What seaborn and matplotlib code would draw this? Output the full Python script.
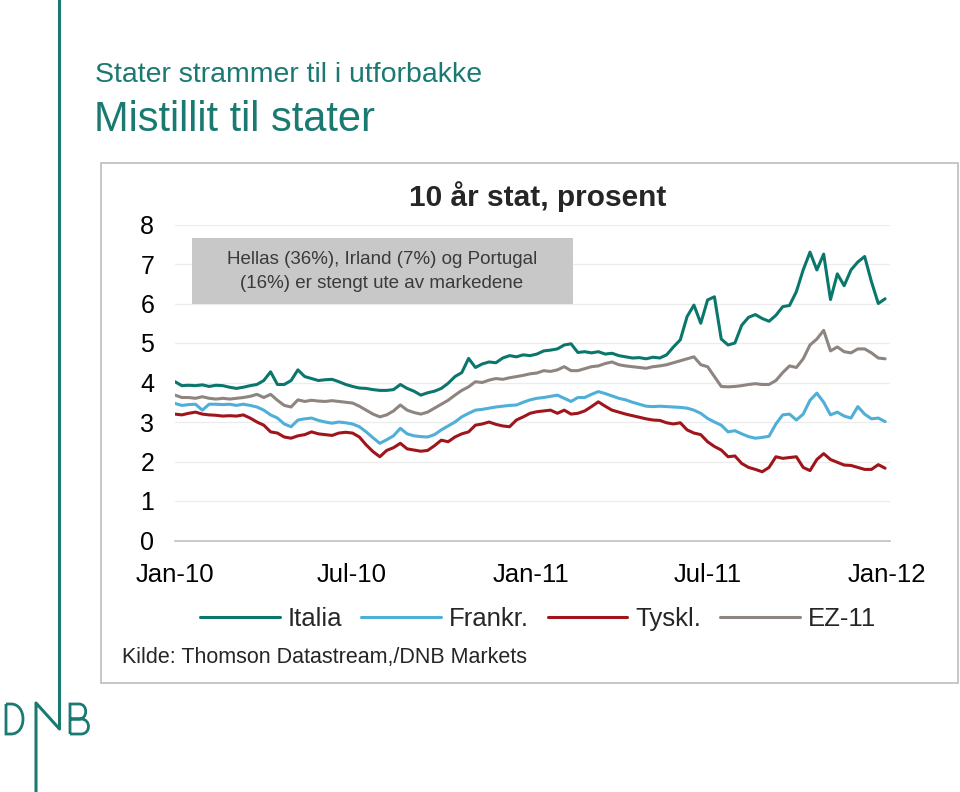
import pandas as pd
import matplotlib.pyplot as plt
import seaborn as sns
from matplotlib.lines import Line2D
from matplotlib.patches import Rectangle, PathPatch
from matplotlib.path import Path
from matplotlib.transforms import IdentityTransform

# ------------------------------------------------------------
# data: 10 year government yields, weekly readings (percent)
# ------------------------------------------------------------
dates = pd.date_range("2010-01-01", periods=105, freq="7D")

italia = [4.02, 3.92, 3.93, 3.92, 3.94, 3.90, 3.93, 3.92, 3.88, 3.85,
          3.88, 3.92, 3.95, 4.05, 4.27, 3.95, 3.95, 4.05, 4.32, 4.15,
          4.10, 4.05, 4.07, 4.08, 4.02, 3.95, 3.90, 3.86, 3.85, 3.82,
          3.80, 3.80, 3.82, 3.95, 3.85, 3.78, 3.68, 3.74, 3.78, 3.85,
          3.98, 4.15, 4.25, 4.61, 4.38, 4.47, 4.52, 4.50, 4.62, 4.68,
          4.65, 4.70, 4.68, 4.72, 4.80, 4.82, 4.85, 4.95, 4.98, 4.76,
          4.78, 4.75, 4.78, 4.72, 4.74, 4.68, 4.65, 4.62, 4.63, 4.60,
          4.64, 4.62, 4.70, 4.90, 5.08, 5.67, 5.96, 5.50, 6.09, 6.17,
          5.10, 4.95, 5.00, 5.45, 5.65, 5.72, 5.62, 5.55, 5.70, 5.92,
          5.95, 6.30, 6.85, 7.30, 6.85, 7.25, 6.10, 6.75, 6.45, 6.85,
          7.05, 7.19, 6.55, 6.00, 6.12]

frankr = [3.47, 3.42, 3.44, 3.45, 3.30, 3.45, 3.45, 3.44, 3.45, 3.42,
          3.45, 3.42, 3.38, 3.30, 3.18, 3.10, 2.95, 2.88, 3.05, 3.08,
          3.10, 3.04, 3.00, 2.97, 3.00, 2.98, 2.95, 2.88, 2.75, 2.60,
          2.46, 2.55, 2.65, 2.84, 2.70, 2.65, 2.63, 2.62, 2.68, 2.80,
          2.90, 3.00, 3.13, 3.22, 3.30, 3.32, 3.35, 3.38, 3.40, 3.42,
          3.43, 3.50, 3.56, 3.60, 3.62, 3.65, 3.68, 3.60, 3.52, 3.62,
          3.62, 3.70, 3.77, 3.72, 3.66, 3.60, 3.56, 3.50, 3.45, 3.40,
          3.39, 3.40, 3.39, 3.38, 3.37, 3.35, 3.30, 3.22, 3.09, 3.00,
          2.92, 2.75, 2.78, 2.70, 2.63, 2.59, 2.61, 2.64, 2.95, 3.18,
          3.20, 3.05, 3.20, 3.55, 3.73, 3.50, 3.18, 3.25, 3.15, 3.10,
          3.39, 3.20, 3.08, 3.10, 3.01]

tyskl = [3.20, 3.18, 3.22, 3.25, 3.20, 3.18, 3.17, 3.15, 3.16, 3.15,
         3.18, 3.10, 3.00, 2.92, 2.75, 2.72, 2.62, 2.59, 2.65, 2.68,
         2.75, 2.70, 2.68, 2.66, 2.72, 2.74, 2.72, 2.62, 2.42, 2.25,
         2.12, 2.28, 2.35, 2.46, 2.32, 2.29, 2.26, 2.28, 2.40, 2.54,
         2.50, 2.62, 2.70, 2.75, 2.92, 2.95, 3.00, 2.94, 2.90, 2.88,
         3.05, 3.13, 3.22, 3.26, 3.28, 3.30, 3.22, 3.30, 3.20, 3.22,
         3.28, 3.39, 3.51, 3.40, 3.30, 3.25, 3.20, 3.16, 3.12, 3.08,
         3.05, 3.04, 2.98, 2.95, 2.98, 2.80, 2.72, 2.68, 2.50, 2.38,
         2.29, 2.12, 2.14, 1.95, 1.85, 1.80, 1.74, 1.85, 2.12, 2.08,
         2.10, 2.12, 1.85, 1.77, 2.05, 2.20, 2.05, 1.98, 1.91, 1.90,
         1.85, 1.80, 1.80, 1.92, 1.83]

ez11 = [3.68, 3.62, 3.62, 3.60, 3.64, 3.60, 3.58, 3.60, 3.58, 3.60,
        3.62, 3.65, 3.70, 3.62, 3.70, 3.55, 3.42, 3.38, 3.56, 3.52,
        3.55, 3.53, 3.52, 3.54, 3.52, 3.50, 3.48, 3.40, 3.30, 3.20,
        3.13, 3.18, 3.28, 3.43, 3.30, 3.24, 3.20, 3.25, 3.35, 3.45,
        3.55, 3.68, 3.80, 3.89, 4.02, 4.00, 4.06, 4.10, 4.08, 4.12,
        4.15, 4.18, 4.22, 4.24, 4.30, 4.28, 4.32, 4.40, 4.30, 4.30,
        4.35, 4.40, 4.42, 4.48, 4.52, 4.45, 4.42, 4.40, 4.38, 4.36,
        4.40, 4.42, 4.45, 4.50, 4.55, 4.60, 4.65, 4.45, 4.40, 4.15,
        3.90, 3.89, 3.90, 3.92, 3.95, 3.97, 3.95, 3.95, 4.05, 4.25,
        4.42, 4.38, 4.60, 4.95, 5.10, 5.32, 4.80, 4.90, 4.78, 4.75,
        4.85, 4.85, 4.75, 4.62, 4.60]

series_names = ["Italia", "Frankr.", "Tyskl.", "EZ-11"]
series_colors = ["#0b776c", "#4eafd8", "#a0141c", "#8e8580"]
x_tick_dates = ["2010-01-01", "2010-07-01", "2011-01-01", "2011-07-01", "2012-01-01"]
y_ticks = [0, 1, 2, 3, 4, 5, 6, 7, 8]

df = pd.DataFrame({"Dato": dates, "Italia": italia, "Frankr.": frankr,
                   "Tyskl.": tyskl, "EZ-11": ez11})
df = df.melt(id_vars="Dato", var_name="Serie", value_name="Rente")

# ------------------------------------------------------------
# figure
# ------------------------------------------------------------
sns.set_theme(style="white")
plt.rcParams["font.family"] = ["Liberation Sans", "DejaVu Sans"]

W, H = 960, 792
TEAL = "#1a7a72"


def fx(px):
    return px / W


def fy(py):
    return 1 - py / H


fig = plt.figure(figsize=(9.6, 7.92), dpi=100)

# chart frame
fig.add_artist(Rectangle((fx(101), fy(683)), fx(958) - fx(101), (683 - 163) / H,
                         transform=fig.transFigure, fill=False,
                         edgecolor="#bdbdbd", lw=1.2, zorder=0))

ax = fig.add_axes([fx(175), fy(540.5), fx(890) - fx(175), (540.5 - 224.5) / H])
sns.lineplot(data=df, x="Dato", y="Rente", hue="Serie", hue_order=series_names,
             palette=dict(zip(series_names, series_colors)), lw=2.2, ax=ax)

ax.set_xlim(pd.Timestamp("2010-01-01"), pd.Timestamp("2012-01-04"))
ax.set_ylim(0, 8)
ax.set_yticks(y_ticks)
ax.set_xticks(pd.to_datetime(x_tick_dates))
ax.set_xticklabels([pd.Timestamp(d).strftime("%b-%y") for d in x_tick_dates])
ax.set_xlabel("")
ax.set_ylabel("")
ax.grid(axis="y", color="#ececec", lw=0.9)
ax.grid(axis="x", visible=False)
for s in ["top", "right", "left"]:
    ax.spines[s].set_visible(False)
ax.spines["bottom"].set_color("#c4c4c4")
ax.tick_params(axis="x", direction="in", length=6, width=1, color="#c4c4c4",
               pad=16, labelsize=18.5, labelcolor="black")
ax.tick_params(axis="y", length=0, pad=15, labelsize=18, labelcolor="black")

sns.move_legend(ax, "center", bbox_to_anchor=(fx(538), fy(619)),
                bbox_transform=fig.transFigure, ncol=4, frameon=False,
                title=None, fontsize=18.5, handlelength=3.1,
                columnspacing=0.75, handletextpad=0.3)

# titles
fig.text(fx(95), fy(75), "Stater strammer til i utforbakke", color=TEAL,
         fontsize=20.5, va="center", ha="left")
fig.text(fx(94), fy(120), "Mistillit til stater", color=TEAL,
         fontsize=30, va="center", ha="left")
fig.text(fx(538), fy(197), "10 år stat, prosent", fontsize=21.5,
         fontweight="bold", ha="center", va="center")

# annotation box
fig.add_artist(Rectangle((fx(192), fy(304)), fx(573) - fx(192), (304 - 238) / H,
                         transform=fig.transFigure, facecolor="#c8c8c8",
                         edgecolor="none", zorder=2))
fig.text(fx(382), fy(260), "Hellas (36%), Irland (7%) og Portugal",
         fontsize=13.5, color="#3a3a3a", ha="center", va="center", zorder=3)
fig.text(fx(382), fy(284), "(16%) er stengt ute av markedene",
         fontsize=13.5, color="#3a3a3a", ha="center", va="center", zorder=3)

# source
fig.text(fx(122), fy(657), "Kilde: Thomson Datastream,/DNB Markets",
         fontsize=15.5, ha="left", va="center")

# DNB logo and vertical rule (stroked outlines, pixel coordinates)
fig.add_artist(Line2D([fx(59.5), fx(59.5), fx(36), fx(36)],
                      [fy(0), fy(729), fy(703), fy(792)],
                      transform=fig.transFigure, color=TEAL, lw=2.2))


def logo_path(verts, codes):
    pts = [(x, H - y) for x, y in verts]
    fig.add_artist(PathPatch(Path(pts, codes), transform=IdentityTransform(),
                             facecolor="none", edgecolor=TEAL, lw=2.0))


M, L, C = Path.MOVETO, Path.LINETO, Path.CURVE4
logo_path([(6, 704), (6, 734), (11, 734), (27, 734), (27, 704), (11, 704), (6, 704)],
          [M, L, L, C, C, C, L])
logo_path([(70, 734), (70, 704), (79, 704), (88, 704), (88, 719), (79, 719),
           (70, 719), (81, 719), (91, 719), (91, 734), (81, 734), (70, 734)],
          [M, L, L, C, C, C, L, L, C, C, C, L])

fig.savefig("out.png", dpi=100)
